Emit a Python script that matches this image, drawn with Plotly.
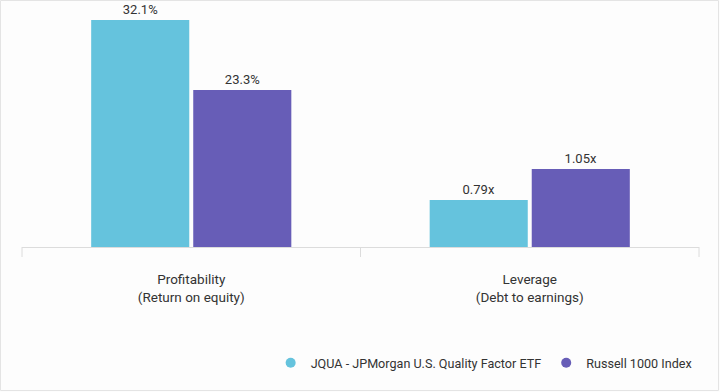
import plotly.graph_objects as go
from plotly.subplots import make_subplots

# ---- data ----
categories = ["Profitability<br>(Return on equity)", "Leverage<br>(Debt to earnings)"]
series_names = ["JQUA - JPMorgan U.S. Quality Factor ETF", "Russell 1000 Index"]
jqua_values = [32.1, 0.79]
russell_values = [23.3, 1.05]
value_labels_jqua = ["32.1%", "0.79x"]
value_labels_russell = ["23.3%", "1.05x"]
colors = ["#65C3DD", "#675DB7"]
y_ranges = [[3.56, 33.35], [0.396, 2.384]]

W, H = 720, 392
ML, MR, MT, MB = 22, 21, 10, 145

fig = make_subplots(rows=1, cols=2, horizontal_spacing=0)

for i, cat in enumerate(categories):
    col = i + 1
    fig.add_trace(go.Bar(
        x=[cat], y=[jqua_values[i]], name=series_names[0],
        marker=dict(color=colors[0], line=dict(width=0)),
        text=[value_labels_jqua[i]], textposition="outside", cliponaxis=False,
        textfont=dict(color="#333333", size=13),
        showlegend=False, hoverinfo="skip", offsetgroup="a"), row=1, col=col)
    fig.add_trace(go.Bar(
        x=[cat], y=[russell_values[i]], name=series_names[1],
        marker=dict(color=colors[1], line=dict(width=0)),
        text=[value_labels_russell[i]], textposition="outside", cliponaxis=False,
        textfont=dict(color="#333333", size=13),
        showlegend=False, hoverinfo="skip", offsetgroup="b"), row=1, col=col)

# legend entries with circle markers
for name, c in zip(series_names, colors):
    fig.add_trace(go.Scatter(x=[None], y=[None], mode="markers", name=name,
                             marker=dict(symbol="circle", size=10, color=c),
                             showlegend=True), row=1, col=1)

for col in (1, 2):
    fig.update_xaxes(showgrid=False, showline=True, linecolor="#dcdcdc", linewidth=1,
                     ticks="", tickfont=dict(size=13.5, color="#333333"),
                     ticklabelstandoff=20, row=1, col=col)
    fig.update_yaxes(range=y_ranges[col - 1], visible=False, showgrid=False,
                     zeroline=False, row=1, col=col)

pw = W - ML - MR
ph = H - MT - MB

# vertical separator ticks (left, middle, right)
for xp in (0, 0.5, 1):
    fig.add_shape(type="line", xref="paper", yref="paper",
                  x0=xp, x1=xp, y0=0, y1=-10 / ph,
                  line=dict(color="#dcdcdc", width=1))

# outer border
fig.add_shape(type="rect", xref="paper", yref="paper",
              x0=(0.5 - ML) / pw, x1=(W - 1.5 - ML) / pw,
              y0=-(MB - 1.5) / ph, y1=(ph + MT - 0.5) / ph,
              line=dict(color="#e4e4e4", width=1), fillcolor="rgba(0,0,0,0)")

fig.update_layout(
    width=W, height=H,
    margin=dict(l=ML, r=MR, t=MT, b=MB),
    paper_bgcolor="#fdfdfd", plot_bgcolor="#fdfdfd",
    barmode="group", bargap=0.397, bargroupgap=0.039,
    font=dict(family="Roboto, 'Noto Sans', sans-serif", size=12, color="#333333"),
    legend=dict(orientation="h", x=0.998, xanchor="right", y=-0.49, yanchor="middle",
                font=dict(size=12.6, color="#333333"), itemwidth=30,
                bgcolor="rgba(0,0,0,0)"),
)

fig.write_html(
    "out.html",
    config={"displayModeBar": False},
    post_script="document.body.style.margin='0';document.body.style.overflow='hidden';",
)
